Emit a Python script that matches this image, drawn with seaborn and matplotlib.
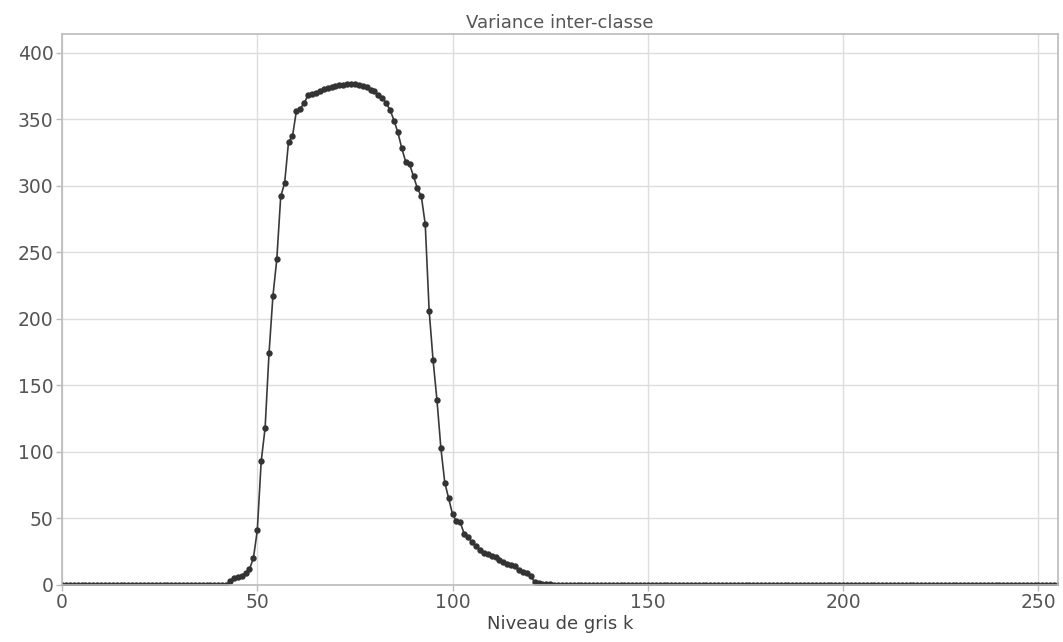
import numpy as np
import pandas as pd
import matplotlib
matplotlib.use("Agg")
import matplotlib.pyplot as plt
import seaborn as sns

# Data: inter-class variance for each grey level k (0..255)
zeros_low = [0.0] * 43            # k = 0..42
active = [                        # k = 43..127
    3, 5, 6, 7, 9, 12, 20, 41, 93, 118,          # 43-52
    174, 217, 245, 292, 302, 333, 337, 356, 358, 362,   # 53-62
    368, 369, 370, 371.5, 372.5, 373.5, 374.5, 375, 375.5, 376,  # 63-72
    376.5, 376.8, 376.5, 376, 375, 374, 372, 371, 368, 366,   # 73-82
    362, 357, 349, 340, 328, 318, 316, 307, 298, 292,   # 83-92
    271, 206, 169, 139, 103, 77, 65, 53, 48, 47,        # 93-102
    38, 36, 32, 29, 26, 24, 23, 22, 21, 19,             # 103-112
    17, 16, 15, 14, 11, 10, 9, 7, 2, 1.5,               # 113-122
    1, 0.8, 0.5, 0.3, 0.1,                              # 123-127
]
zeros_high = [0.0] * (256 - 43 - len(active))
variance = zeros_low + active + zeros_high
levels = list(range(256))

title = "Variance inter-classe"
xlabel = "Niveau de gris k"
xticks = [0, 50, 100, 150, 200, 250]
yticks = [0, 50, 100, 150, 200, 250, 300, 350, 400]

df = pd.DataFrame({"k": levels, "var": variance})

sns.set_theme(style="whitegrid")
plt.rcParams["font.family"] = ["DejaVu Sans"]

fig = plt.figure(figsize=(10.63, 6.42), dpi=100)
ax = fig.add_axes([62 / 1063, 1 - 585 / 642, (1058 - 62) / 1063, (585 - 34) / 642])

sns.lineplot(data=df, x="k", y="var", ax=ax, color="#3a3a3a", linewidth=1.2,
             marker="o", markersize=4.6, markeredgewidth=0, markerfacecolor="#333333")

ax.set_xlim(0, 255)
ax.set_ylim(0, 414)
ax.set_xticks(xticks)
ax.set_yticks(yticks)
ax.set_title(title, fontsize=13, color="#555555", pad=4)
ax.set_xlabel(xlabel, fontsize=13, color="#444444", labelpad=2)
ax.set_ylabel("")
ax.grid(True, color="#dddddd", linewidth=1.0)
for s in ax.spines.values():
    s.set_color("#bbbbbb")
    s.set_linewidth(1.2)
ax.tick_params(axis="both", which="major", labelsize=13.5, labelcolor="#555555",
               length=4, width=1, direction="out", pad=2, color="#bbbbbb",
               bottom=True, left=True)

fig.savefig("out.png", dpi=100)
